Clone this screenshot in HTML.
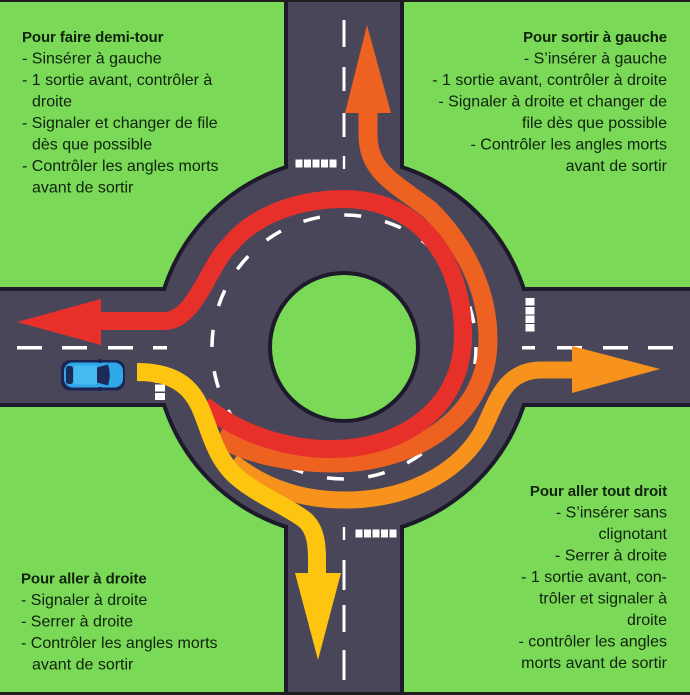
<!DOCTYPE html>
<html><head><meta charset="utf-8"><style>
html,body{margin:0;padding:0;background:#7ad957;}
svg{display:block;}
text{font-family:"Liberation Sans",Arial,sans-serif;font-size:16px;fill:#10230e;}
.b{font-weight:bold;font-size:15px;letter-spacing:-0.1px;}
</style></head><body>
<svg width="690" height="695" viewBox="0 0 690 695" xmlns="http://www.w3.org/2000/svg">
<rect width="690" height="695" fill="#7ad957"/>
<!-- road outline -->
<g fill="#1d1a2c" stroke="#1d1a2c" stroke-width="8" stroke-linejoin="round">
 <rect x="288" y="-10" width="112" height="715"/>
 <rect x="-10" y="291" width="710" height="112"/>
 <circle cx="344" cy="347" r="187"/>
</g>
<!-- road fill -->
<g fill="#4a4659">
 <rect x="288" y="-10" width="112" height="715"/>
 <rect x="-10" y="291" width="710" height="112"/>
 <circle cx="344" cy="347" r="187"/>
</g>
<!-- island -->
<circle cx="344" cy="347" r="74" fill="#7ad957" stroke="#1d1a2c" stroke-width="4"/>
<!-- ring dashes -->
<circle cx="344" cy="347" r="132" fill="none" stroke="#fff" stroke-width="3.5" stroke-dasharray="17 24.47"/>
<!-- road markings -->
<g fill="#fff">
 <!-- top road center -->
 <rect x="342.5" y="20" width="3" height="27"/>
 <rect x="342.5" y="67" width="3" height="24"/>
 <rect x="342.5" y="113" width="3" height="24"/>
 <rect x="342.8" y="156" width="2.4" height="13"/>
 <!-- top crosswalk -->
 <rect x="295.5" y="159.5" width="7" height="8"/>
 <rect x="304" y="159.5" width="7" height="8"/>
 <rect x="312.5" y="159.5" width="7" height="8"/>
 <rect x="321" y="159.5" width="7" height="8"/>
 <rect x="329.5" y="159.5" width="7" height="8"/>
 <!-- bottom road center -->
 <rect x="342.8" y="527" width="2.4" height="13"/>
 <rect x="342.5" y="560" width="3" height="30"/>
 <rect x="342.5" y="605" width="3" height="27"/>
 <rect x="342.5" y="650" width="3" height="30"/>
 <!-- bottom crosswalk -->
 <rect x="355.5" y="529.5" width="7" height="8"/>
 <rect x="364" y="529.5" width="7" height="8"/>
 <rect x="372.5" y="529.5" width="7" height="8"/>
 <rect x="381" y="529.5" width="7" height="8"/>
 <rect x="389.5" y="529.5" width="7" height="8"/>
 <!-- left road center -->
 <rect x="17" y="346" width="25" height="3.5"/>
 <rect x="62" y="346" width="25" height="3.5"/>
 <rect x="108" y="346" width="25" height="3.5"/>
 <rect x="153" y="346" width="14" height="3.5"/>
 <!-- left crosswalk -->
 <rect x="155" y="367.5" width="10" height="7"/>
 <rect x="155" y="376" width="10" height="7"/>
 <rect x="155" y="384.5" width="10" height="7"/>
 <rect x="155" y="393" width="10" height="7"/>
 <!-- right road center -->
 <rect x="522" y="346" width="13" height="3.5"/>
 <rect x="557" y="346" width="25" height="3.5"/>
 <rect x="603" y="346" width="25" height="3.5"/>
 <rect x="648" y="346" width="25" height="3.5"/>
 <!-- right crosswalk -->
 <rect x="525.5" y="298" width="9" height="7.5"/>
 <rect x="525.5" y="307" width="9" height="7.5"/>
 <rect x="525.5" y="315.5" width="9" height="7.5"/>
 <rect x="525.5" y="324" width="9" height="7.5"/>
</g>
<!-- orange: tout droit -->
<path d="M232,462 C268,490 305,500 345,500 C405,500 455,475 480,435 C495,410 500,371 540,370 L578,370" fill="none" stroke="#f7931d" stroke-width="17"/>
<polygon points="572,346 572,393 660,369" fill="#f7931d"/>
<!-- orange-red: sortir a gauche -->
<path d="M218,437 C255,457 295,463 335,463 C410,463 488,420 488,340 C488,290 465,245 430,210 C395,183 368,172 368,135 L368,110" fill="none" stroke="#ee6221" stroke-width="19"/>
<polygon points="345,113 391,113 367,25" fill="#ee6221"/>
<!-- red: demi-tour -->
<path d="M204,405 C240,435 290,450 335,449 C400,448 463,410 463,335 C463,260 420,200 345,199 C290,199 250,220 230,245 C210,262 196,320 165,321 L100,321" fill="none" stroke="#e8302b" stroke-width="18"/>
<polygon points="101,299 101,345 17,322" fill="#e8302b"/>
<!-- yellow: droite -->
<path d="M137,372 C168,372 188,382 199,405 C210,428 214,458 238,478 C258,495 290,508 305,520 C316,530 317,545 317,560 L317,575" fill="none" stroke="#fdc50f" stroke-width="18"/>
<polygon points="295,573 341,573 318,660" fill="#fdc50f"/>
<!-- car -->
<g>
 <rect x="61" y="360" width="64" height="30.5" rx="9" fill="#1b2452"/>
 <rect x="64" y="362.5" width="59" height="25" rx="8.5" fill="#2fa8e8"/>
 <rect x="66" y="366" width="7" height="18" rx="2.5" fill="#1c2a58"/>
 <rect x="74" y="365.5" width="23" height="19" rx="2" fill="#45baf2"/>
 <path d="M97,367.5 L108,364.5 Q111.5,375 108,385.5 L97,382.5 Z" fill="#1c2a58"/>
 <rect x="98" y="359" width="4" height="4" rx="1" fill="#1b2452"/>
 <rect x="98" y="387" width="4" height="4" rx="1" fill="#1b2452"/>
</g>
<!-- frame lines -->
<rect x="0" y="0" width="690" height="2" fill="#1e1e1e"/>
<rect x="0" y="692" width="690" height="3" fill="#1e1e1e"/>
<!-- texts -->
<text x="22" y="42" class="b">Pour faire demi-tour</text>
<text x="22" y="63.5">- Sinsérer à gauche</text>
<text x="22" y="85">- 1 sortie avant, contrôler à</text>
<text x="32" y="106.5">droite</text>
<text x="22" y="128">- Signaler et changer de file</text>
<text x="32" y="149.5">dès que possible</text>
<text x="22" y="171">- Contrôler les angles morts</text>
<text x="32" y="192.5">avant de sortir</text>

<g text-anchor="end">
<text x="667" y="42" class="b">Pour sortir à gauche</text>
<text x="667" y="63.5">- S’insérer à gauche</text>
<text x="667" y="85">- 1 sortie avant, contrôler à droite</text>
<text x="667" y="106.5">- Signaler à droite et changer de</text>
<text x="667" y="128">file dès que possible</text>
<text x="667" y="149.5">- Contrôler les angles morts</text>
<text x="667" y="171">avant de sortir</text>
</g>

<text x="21" y="583.5" class="b">Pour aller à droite</text>
<text x="21" y="605">- Signaler à droite</text>
<text x="21" y="626.5">- Serrer à droite</text>
<text x="21" y="648">- Contrôler les angles morts</text>
<text x="32" y="669.5">avant de sortir</text>

<g text-anchor="end">
<text x="667" y="496" class="b">Pour aller tout droit</text>
<text x="667" y="517.5">- S’insérer sans</text>
<text x="667" y="539">clignotant</text>
<text x="667" y="560.5">- Serrer à droite</text>
<text x="667" y="582">- 1 sortie avant, con-</text>
<text x="667" y="603.5">trôler et signaler à</text>
<text x="667" y="625">droite</text>
<text x="667" y="646.5">- contrôler les angles</text>
<text x="667" y="668">morts avant de sortir</text>
</g>
</svg>
</body></html>
